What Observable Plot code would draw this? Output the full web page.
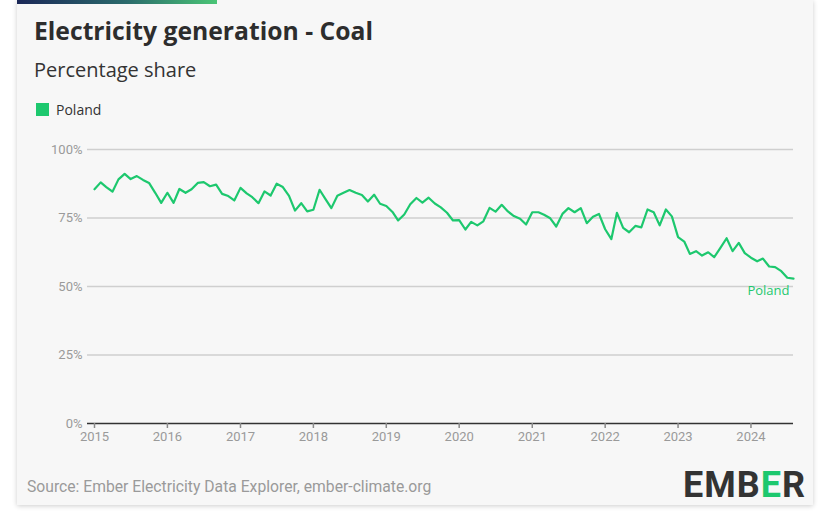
<!DOCTYPE html>
<html><head><meta charset="utf-8">
<script src="https://cdn.jsdelivr.net/npm/d3@7"></script>
<script src="https://cdn.jsdelivr.net/npm/@observablehq/plot@0.6"></script>
<style>
html,body{margin:0;padding:0;background:#fff;}
body{width:823px;height:529px;position:relative;overflow:hidden;font-family:"Open Sans","Noto Sans",sans-serif;}
#card{position:absolute;left:17px;top:0;width:796px;height:505px;background:#f7f7f7;box-shadow:0 1px 5px rgba(0,0,0,0.2);}
#bar{position:absolute;left:0;top:0;width:200px;height:4px;background:linear-gradient(90deg,#1b2858,#2b6b6c 55%,#4ac576);}
#title{position:absolute;left:17px;top:18.5px;font-size:24.7px;line-height:24px;font-weight:700;color:#2d2d2d;white-space:nowrap;}
#subtitle{position:absolute;left:17px;top:59.5px;font-size:20px;line-height:20px;color:#333;white-space:nowrap;}
#legend{position:absolute;left:19px;top:102px;font-size:14px;line-height:15px;color:#333;display:flex;align-items:center;white-space:nowrap;}
#legend .sw{width:13px;height:13px;background:#1dc86e;margin-right:7px;}
#source{position:absolute;left:10px;top:478px;font-family:"Liberation Sans Narrow","Roboto",sans-serif;font-size:15.7px;line-height:18px;color:#9a9a9a;white-space:nowrap;}
#logo{position:absolute;left:666px;top:465px;font-family:Roboto,sans-serif;font-weight:700;font-size:36px;line-height:40px;color:#333;letter-spacing:1px;white-space:nowrap;}
#logo .g{color:#1dc86e;}
#chart{position:absolute;left:0;top:130px;}
</style></head>
<body>
<div id="card">
  <div id="bar"></div>
  <div id="title">Electricity generation - Coal</div>
  <div id="subtitle">Percentage share</div>
  <div id="legend"><div class="sw"></div><span>Poland</span></div>
  <div id="source">Source: Ember Electricity Data Explorer, ember-climate.org</div>
  <div id="logo">EMB<span class="g">E</span>R</div>
</div>
<div id="chart"></div>
<script>
// Monthly coal share of Poland's electricity generation (%), Jan 2015 – Aug 2024
const poland2015 = [85.5, 88.0, 86.3, 84.6, 89.1, 91.1, 89.2, 90.3, 88.9, 87.8, 84.2, 80.5];
const poland2016 = [84.2, 80.5, 85.6, 84.2, 85.5, 87.8, 88.1, 86.6, 87.2, 83.8, 83.0, 81.4];
const poland2017 = [86.0, 84.0, 82.6, 80.4, 84.7, 83.2, 87.5, 86.3, 83.1, 77.7, 80.4, 77.4];
const poland2018 = [78.0, 85.3, 82.1, 78.6, 83.1, 84.2, 85.2, 84.2, 83.4, 81.0, 83.5, 80.2];
const poland2019 = [79.4, 77.2, 74.1, 76.3, 80.0, 82.3, 80.6, 82.4, 80.3, 78.9, 76.9, 74.1];
const poland2020 = [74.2, 70.8, 73.6, 72.3, 73.8, 78.7, 77.3, 79.8, 77.4, 75.7, 74.7, 72.6];
const poland2021 = [77.1, 77.1, 76.2, 74.9, 71.9, 76.5, 78.6, 77.1, 78.6, 73.1, 75.5, 76.5];
const poland2022 = [70.9, 67.3, 76.9, 71.4, 69.8, 72.1, 71.6, 78.1, 77.1, 72.3, 78.1, 75.6];
const poland2023 = [68.0, 66.4, 61.9, 62.9, 61.3, 62.5, 60.7, 64.1, 67.6, 62.9, 65.9, 62.2];
const poland2024 = [60.5, 59.2, 60.2, 57.3, 57.1, 55.6, 53.2, 52.9];

const yTicks = [0, 25, 50, 75, 100];
const xTickYears = [2015, 2016, 2017, 2018, 2019, 2020, 2021, 2022, 2023, 2024];
const seriesName = "Poland";
const lineColor = "#1dc86e";

const values = [].concat(poland2015, poland2016, poland2017, poland2018, poland2019,
  poland2020, poland2021, poland2022, poland2023, poland2024);
const months = d3.utcMonth.range(new Date(Date.UTC(2015, 0, 1)), new Date(Date.UTC(2024, 8, 1)));
const data = months.map((d, i) => ({date: d, value: values[i]}));
const last = data[data.length - 1];
const xTicks = xTickYears.map(y => new Date(Date.UTC(y, 0, 1)));

const chart = Plot.plot({
  width: 823,
  height: 320,
  marginLeft: 87,
  marginRight: 30,
  marginTop: 19,
  marginBottom: 27,
  style: {background: "transparent", fontFamily: "'Liberation Sans Narrow', Roboto, sans-serif", fontSize: "13px", color: "#9a9a9a", overflow: "visible"},
  x: {type: "utc", domain: [months[0], months[months.length - 1]], insetLeft: 7},
  y: {domain: [0, 100]},
  marks: [
    Plot.ruleY(yTicks.filter(t => t > 0), {stroke: "#cfcfcf", strokeWidth: 1.5}),
    Plot.axisY({ticks: yTicks, tickSize: 0, tickPadding: 5, tickFormat: d => d + "%", label: null, fill: "#9a9a9a"}),
    Plot.ruleY([0], {stroke: "#333", strokeWidth: 1.5}),
    Plot.axisX({ticks: xTicks, tickSize: 5, tickPadding: 3, tickFormat: d3.utcFormat("%Y"), label: null, stroke: "#8a8a8a", fill: "#9a9a9a", strokeWidth: 1.5}),
    Plot.line(data, {x: "date", y: "value", stroke: lineColor, strokeWidth: 2.2}),
    Plot.text([last], {x: "date", y: "value", text: () => seriesName, dy: 12, dx: -4, textAnchor: "end", fill: lineColor, fontSize: 13, fontFamily: "'Open Sans', sans-serif"})
  ]
});
document.getElementById("chart").appendChild(chart);
</script>
</body></html>
